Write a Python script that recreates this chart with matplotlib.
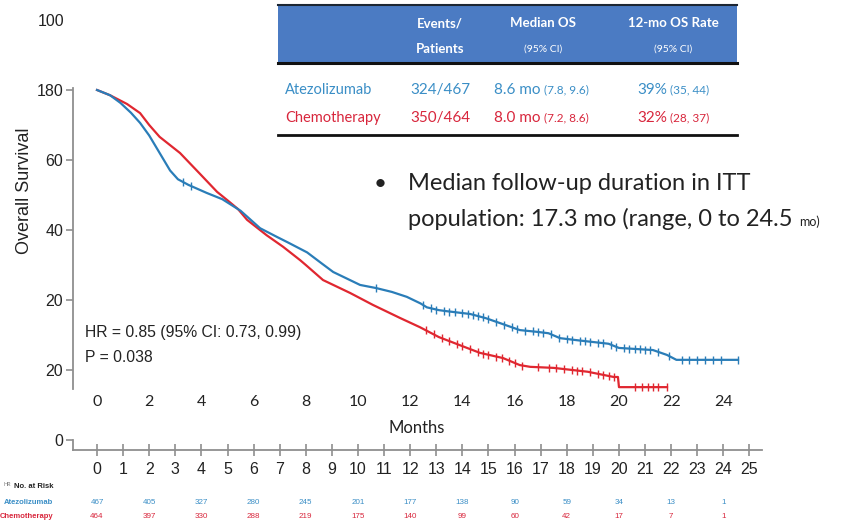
import matplotlib
matplotlib.use("Agg")
import matplotlib.pyplot as plt
import numpy as np
from matplotlib.transforms import blended_transform_factory
from matplotlib.patches import Rectangle
from matplotlib.lines import Line2D

# ---------------- data ----------------
atezo_months = [0, 0.5, 0.9, 1.3, 1.65, 2.0, 2.4, 2.8, 3.1, 3.5, 4.2, 4.8, 5.5, 6.25, 6.9,
                7.3, 8.05, 8.6, 9.05, 10.08, 10.7, 11.3, 11.87, 12.4, 12.64, 13.1, 13.4,
                14.3, 14.9, 15.44, 16.2, 16.86, 17.3, 17.74, 18.4, 19.0, 19.6, 20.0, 21.3,
                21.84, 22.2, 24.56]
atezo_surv = [100, 98.5, 96.3, 93.5, 90.6, 87, 82, 77, 74.5, 72.9, 70.6, 68.8, 65.5, 60.5, 58,
              56.5, 53.6, 50.5, 48, 44.3, 43.4, 42.3, 40.9, 39, 37.9, 37.1, 36.8,
              36.0, 34.8, 33.4, 31.4, 30.9, 30.5, 29.1, 28.5, 28, 27.5, 26.3, 25.7,
              24.3, 22.9, 22.9]
chemo_months = [0, 0.5, 1.15, 1.65, 2.0, 2.4, 3.18, 3.95, 4.6, 4.98, 5.4, 5.75, 6.5, 7.13,
                7.78, 8.0, 8.66, 9.7, 10.57, 11.6, 12.38, 13.1, 13.9, 14.67, 15.56, 16.2,
                16.6, 17.5, 18.8, 19.8, 19.96, 20.0, 21.84]
chemo_surv = [100, 98.5, 96, 93.4, 90, 86.6, 82, 76, 70.9, 68.6, 66, 62.9, 58.5, 55.2,
              51.4, 50, 45.7, 42, 38.6, 34.9, 32.2, 29.4, 27.1, 24.9, 23.4, 21.4,
              20.9, 20.6, 19.5, 18.0, 18.0, 15.1, 15.1]

atezo_censor = [3.3, 3.6, 10.7, 12.5, 12.8, 13.0, 13.3, 13.5, 13.7, 14.0, 14.2, 14.4, 14.6,
                14.8, 15.0, 15.3, 15.6, 15.9, 16.1, 16.4, 16.7, 16.9, 17.1, 17.4, 17.7, 18.0,
                18.2, 18.5, 18.7, 18.9, 19.2, 19.4, 19.7, 19.9, 20.2, 20.4, 20.6, 20.8, 21.0,
                21.2, 21.5, 21.9, 22.4, 22.7, 23.0, 23.3, 23.6, 23.9, 24.56]
chemo_censor = [12.6, 12.9, 13.2, 13.5, 13.8, 14.0, 14.3, 14.6, 14.8, 15.0, 15.3, 15.5, 15.8,
                16.0, 16.3, 16.9, 17.3, 17.6, 17.9, 18.2, 18.4, 18.6, 18.9, 19.2, 19.4, 19.6,
                19.8, 20.6, 20.9, 21.1, 21.3, 21.5, 21.84]

ytick_values = [0, 20, 40, 60, 80, 100]
ytick_labels = ["0", "20", "20", "40", "60", "180"]
inner_xticks = list(range(0, 25, 2))
bottom_xticks = list(range(0, 26))

risk_months = list(range(0, 25, 2))
risk_atezo = [467, 405, 327, 280, 245, 201, 177, 138, 90, 59, 34, 13, 1]
risk_chemo = [464, 397, 330, 288, 219, 175, 140, 99, 60, 42, 17, 7, 1]

arm_names = ["Atezolizumab", "Chemotherapy"]
events = ["324/467", "350/464"]
median_os = ["8.6 mo", "8.0 mo"]
median_ci = ["(7.8, 9.6)", "(7.2, 8.6)"]
rate12 = ["39%", "32%"]
rate12_ci = ["(35, 44)", "(28, 37)"]

# ---------------- style ----------------
BLUE = "#2a7db8"
RED = "#e02730"
BLUE_T = "#3a8ec6"
RED_T = "#d8263c"
SPINE = "#8f8f8f"
ARIAL = ["Liberation Sans", "DejaVu Sans"]
CAL = ["Lato", "DejaVu Sans"]
INK = "#222222"

W, H = 848, 522
fig = plt.figure(figsize=(W / 100, H / 100), dpi=100)


def fx(x):
    return x / W


def fy(y):
    return 1 - y / H


ax = fig.add_axes([fx(73), fy(450), (762 - 73) / W, (450 - 88) / H])
ax.set_xlim(-0.92, 25.48)
ax.set_ylim(-2.86, 100.57)

ax.plot(atezo_months, atezo_surv, color=BLUE, lw=1.6, zorder=3)
ax.plot(chemo_months, chemo_surv, color=RED, lw=1.6, zorder=2)
ax.plot(atezo_censor, np.interp(atezo_censor, atezo_months, atezo_surv), "|",
        color=BLUE, ms=6, mew=1.0, zorder=3)
ax.plot(chemo_censor, np.interp(chemo_censor, chemo_months, chemo_surv), "|",
        color=RED, ms=6, mew=1.0, zorder=2)

# spines
for s in ["top", "right"]:
    ax.spines[s].set_visible(False)
ax.spines["left"].set_color(SPINE)
ax.spines["left"].set_linewidth(1.3)
ax.spines["left"].set_bounds(14.7, 100.57)
ax.spines["bottom"].set_color(SPINE)
ax.spines["bottom"].set_linewidth(1.3)
trans_l = blended_transform_factory(ax.transAxes, ax.transData)
ax.plot([0, 0], [0, -2.86], transform=trans_l, color=SPINE, lw=1.3, clip_on=False)

ax.set_yticks(ytick_values)
ax.set_yticklabels(ytick_labels, family=ARIAL, fontsize=11.5, color=INK)
ax.tick_params(axis="y", direction="out", length=5, width=1.2, color=SPINE, pad=2)

ax.set_xticks(bottom_xticks)
ax.set_xticklabels([str(v) for v in bottom_xticks], family=ARIAL, fontsize=11.5,
                   color=INK)
ax.tick_params(axis="x", direction="inout", length=9, width=1.2, color=SPINE, pad=4)

for m in inner_xticks:
    ax.text(m, 10.9, str(m), ha="center", va="center", family=CAL, fontsize=11.5,
            color=INK)
ax.text(12.26, 3.4, "Months", ha="center", va="center", family=CAL, fontsize=12,
        color=INK)

fig.text(fx(64), fy(22), "100", ha="right", va="center", family=ARIAL, fontsize=11.5,
         color=INK)
fig.text(fx(25), fy(191), "Overall Survival", rotation=90, ha="center", va="center",
         family=ARIAL, fontsize=13, color=INK)

fig.text(fx(85), fy(333), "HR = 0.85 (95% CI: 0.73, 0.99)", ha="left", va="center",
         family=ARIAL, fontsize=11.3, color=INK)
fig.text(fx(85), fy(358), "P = 0.038", ha="left", va="center",
         family=ARIAL, fontsize=11.3, color=INK)

# ---------------- table ----------------
fig.add_artist(Rectangle((fx(278), fy(63)), (737 - 278) / W, (63 - 5) / H,
                         transform=fig.transFigure, facecolor="#4b7bc3", edgecolor="none"))
fig.add_artist(Line2D([fx(278), fx(737)], [fy(5), fy(5)], color="#1c2633", lw=1.5))
fig.add_artist(Line2D([fx(278), fx(737)], [fy(63), fy(63)], color="#111111", lw=2.2))
fig.add_artist(Line2D([fx(278), fx(737)], [fy(135), fy(135)], color="#111111", lw=2.0))

hdr = dict(ha="center", va="center", family=CAL, color="white", weight="bold")
fig.text(fx(440), fy(23), "Events/", fontsize=9.5, **hdr)
fig.text(fx(440), fy(49), "Patients", fontsize=9.5, **hdr)
fig.text(fx(543), fy(23), "Median OS", fontsize=9.5, **hdr)
fig.text(fx(543), fy(49), "(95% CI)", fontsize=7.5, ha="center", va="center", family=CAL,
         color="white")
fig.text(fx(673), fy(23), "12-mo OS Rate", fontsize=9.5, **hdr)
fig.text(fx(673), fy(49), "(95% CI)", fontsize=7.5, ha="center", va="center", family=CAL,
         color="white")

row_y = [90, 118]
row_col = [BLUE_T, RED_T]
for i in range(2):
    y = fy(row_y[i])
    c = row_col[i]
    fig.text(fx(285), y, arm_names[i], ha="left", va="center", family=CAL, fontsize=10.5,
             color=c)
    fig.text(fx(440), y, events[i], ha="center", va="center", family=CAL, fontsize=11,
             color=c)
    fig.text(fx(540), y, median_os[i], ha="right", va="center", family=CAL, fontsize=11,
             color=c)
    fig.text(fx(544), y, median_ci[i], ha="left", va="center", family=CAL, fontsize=8.5,
             color=c)
    fig.text(fx(667), y, rate12[i], ha="right", va="center", family=CAL, fontsize=11,
             color=c)
    fig.text(fx(670), y, rate12_ci[i], ha="left", va="center", family=CAL, fontsize=8.5,
             color=c)

# ---------------- bullet text ----------------
fig.text(fx(380), fy(184), "\u2022", ha="center", va="center", family=CAL, fontsize=16,
         color=INK)
fig.text(fx(408), fy(183), "Median follow-up duration in ITT", ha="left", va="center",
         family=CAL, fontsize=17, color=INK)
fig.text(fx(408), fy(219), "population: 17.3 mo (range, 0 to 24.5", ha="left",
         va="center", family=CAL, fontsize=17, color=INK)
fig.text(fx(799), fy(222), "mo)", ha="left", va="center", family=CAL, fontsize=9,
         color=INK)

# ---------------- number at risk ----------------
fig.text(fx(3), fy(484), "HR", ha="left", va="center", family=CAL, fontsize=4,
         color="#777777")
fig.text(fx(53), fy(486), "No. at Risk", ha="right", va="center",
         family=ARIAL, fontsize=5.5, weight="bold", color=INK)
fig.text(fx(53), fy(503), arm_names[0], ha="right", va="center",
         family=ARIAL, fontsize=5.5, weight="bold", color=BLUE_T)
fig.text(fx(53), fy(517), arm_names[1], ha="right", va="center",
         family=ARIAL, fontsize=5.5, weight="bold", color=RED_T)
trans_r = blended_transform_factory(ax.transData, fig.transFigure)
for m, a, c in zip(risk_months, risk_atezo, risk_chemo):
    ax.text(m, fy(503), str(a), transform=trans_r, ha="center", va="center",
            family=ARIAL, fontsize=5.8, color=BLUE_T, clip_on=False)
    ax.text(m, fy(517), str(c), transform=trans_r, ha="center", va="center",
            family=ARIAL, fontsize=5.8, color=RED_T, clip_on=False)

fig.savefig("out.png", dpi=100)
